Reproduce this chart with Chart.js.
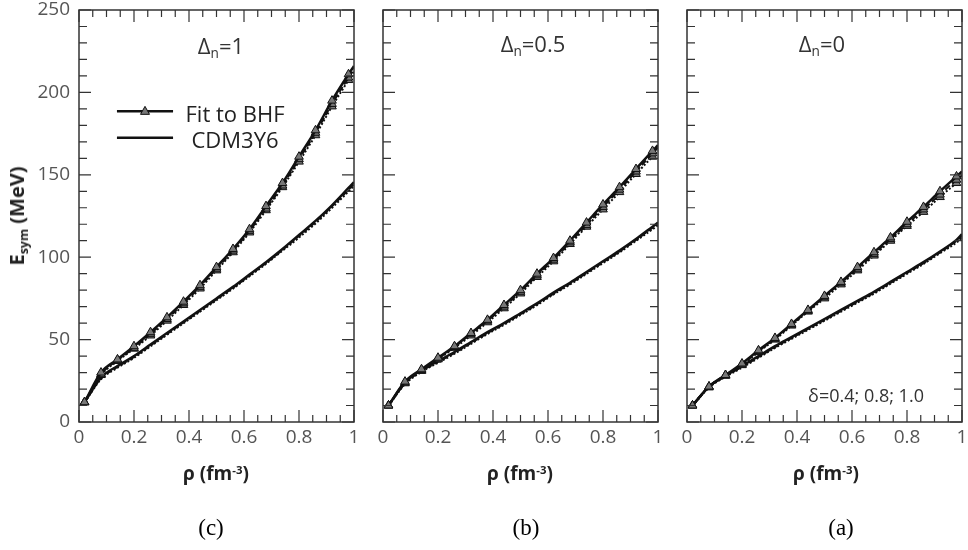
<!DOCTYPE html>
<html>
<head>
<meta charset="utf-8">
<script src="https://cdn.jsdelivr.net/npm/chart.js@4.4.0/dist/chart.umd.min.js"></script>
<style>
  body { margin: 0; background: #fff; }
  #wrap { position: relative; width: 968px; height: 550px; overflow: hidden; font-family: 'Open Sans', sans-serif; }
  canvas { position: absolute; left: 0; top: 0; }
  .lbl { position: absolute; transform: translate(-50%, -50%); white-space: nowrap; color: #333; line-height: 1; }
  .lbl sub { font-size: 62%; vertical-align: baseline; position: relative; top: 0.3em; }
  .lbl sup { font-size: 60%; vertical-align: baseline; position: relative; top: -0.55em; }
  .dn { font-size: 22px; }
  .xt { font-size: 19px; font-weight: bold; color: #222; }
  .yt { font-size: 20px; font-weight: bold; color: #222; transform: translate(-50%, -50%) rotate(-90deg); }
  .cap { font-family: 'Liberation Serif', 'Times New Roman', serif; font-size: 23px; color: #000; }
  .leg { font-size: 22px; color: #222; }
</style>
</head>
<body>
<div id="wrap">
  <canvas id="c1" width="968" height="550"></canvas>
  <canvas id="c2" width="968" height="550"></canvas>
  <canvas id="c3" width="968" height="550"></canvas>

  <div class="lbl dn" style="left:221px; top:45px;">&Delta;<sub>n</sub>=1</div>
  <div class="lbl dn" style="left:533px; top:43px;">&Delta;<sub>n</sub>=0.5</div>
  <div class="lbl dn" style="left:822px; top:43px;">&Delta;<sub>n</sub>=0</div>
  <div class="lbl" style="left:866px; top:395px; font-size:18px;">&delta;=0.4; 0.8; 1.0</div>

  <div class="lbl leg" style="left:235px; top:113px;">Fit to BHF</div>
  <div class="lbl leg" style="left:235px; top:139px;">CDM3Y6</div>

  <div class="lbl yt" style="left:17px; top:216px;">E<sub>sym</sub> (MeV)</div>
  <div class="lbl xt" style="left:216px; top:473px;">&rho; (fm<sup>-3</sup>)</div>
  <div class="lbl xt" style="left:520px; top:473px;">&rho; (fm<sup>-3</sup>)</div>
  <div class="lbl xt" style="left:826px; top:473px;">&rho; (fm<sup>-3</sup>)</div>

  <div class="lbl cap" style="left:211px; top:527px;">(c)</div>
  <div class="lbl cap" style="left:526px; top:527px;">(b)</div>
  <div class="lbl cap" style="left:841px; top:527px;">(a)</div>
</div>
<script>
// density grid (fm^-3)
const rho = [0.02, 0.08, 0.14, 0.20, 0.26, 0.32, 0.38, 0.44, 0.50, 0.56, 0.62, 0.68, 0.74, 0.80, 0.86, 0.92, 0.98, 1.00];

// panel (c), Delta_n = 1
const bhfC10 = [12, 30, 38, 46, 54.5, 63.5, 73, 83, 94, 105, 117, 131, 145, 161, 177, 195, 211, 216];
const bhfC08 = [12, 29, 37.5, 45, 53.5, 62.5, 72, 82, 93, 104, 116, 129.5, 143.5, 159.5, 175.5, 193, 209, 214.5];
const bhfC04 = [12, 28.5, 37, 44.5, 52.5, 61.5, 71, 81, 92, 103, 115, 128.5, 142.5, 158, 174, 191.5, 207.5, 213];
const cdmC10 = [12, 27, 34, 40, 47, 54, 61, 68, 75, 82, 89.5, 97, 105, 113.5, 122, 131.5, 142, 145.5];
const cdmC08 = [12, 26.5, 33.5, 39.5, 46.5, 53.5, 60.5, 67.5, 74.5, 81.5, 89, 96.5, 104.5, 113, 121.5, 131, 141, 144.5];
const cdmC04 = [12, 26, 33, 39, 46, 53, 60, 67, 74, 81, 88.5, 96, 104, 112, 120.5, 130, 140, 143.5];

// panel (b), Delta_n = 0.5
const bhfB10 = [10, 24.5, 32, 39, 46, 54, 62, 71, 80, 90, 99.5, 110, 121, 132, 142.5, 153.5, 164.5, 168];
const bhfB08 = [10, 24, 31.5, 38.5, 45.5, 53.5, 61.5, 70, 79, 89, 98.5, 109, 119.5, 130.5, 141, 152, 163, 166.5];
const bhfB04 = [10, 23.5, 31, 38, 45, 52.5, 60.5, 69, 78, 88, 97.5, 108, 118.5, 129, 139.5, 150.5, 161, 164.5];
const cdmB10 = [10, 24, 31.5, 37, 42.5, 48.5, 54.5, 60, 66, 72, 78.5, 84.5, 91, 97.5, 104, 111, 118.5, 121];
const cdmB08 = [10, 23.5, 31, 36.5, 42, 48, 54, 59.5, 65.5, 71.5, 78, 84, 90.5, 97, 103.5, 110.5, 118, 120.5];
const cdmB04 = [10, 23, 30.5, 36, 41.5, 47.5, 53.5, 59, 65, 71, 77.5, 83.5, 90, 96.5, 103, 110, 117, 119.5];

// panel (a), Delta_n = 0
const bhfA10 = [10, 21.5, 28.5, 35.5, 43.5, 51, 59.5, 68, 76.5, 85, 94, 103, 112, 121.5, 130.5, 140, 149, 152];
const bhfA08 = [10, 21.5, 28.5, 35, 43, 50.5, 59, 67.5, 76, 84.5, 93, 102, 111, 120, 129, 138, 147, 149.5];
const bhfA04 = [10, 21, 28, 34.5, 42.5, 50, 58.5, 67, 75, 83.5, 92, 101, 110, 119, 127.5, 136.5, 145, 147.5];
const cdmA10 = [10, 21.5, 28, 34, 40, 46, 51.5, 57, 62.5, 68, 73.5, 79, 85, 91, 97, 103.5, 110.5, 114];
const cdmA08 = [10, 21.5, 28, 33.5, 39.5, 45.5, 51, 56.5, 62, 67.5, 73, 78.5, 84.5, 90.5, 96.5, 103, 110, 113];
const cdmA04 = [10, 21, 27.5, 33, 39, 45, 50.5, 56, 61.5, 67, 72.5, 78, 84, 90, 96, 102.5, 109, 112];

const tickFont = { family: 'Open Sans', size: 19 };

function series(vals, dash, markers, width) {
    return {
        data: rho.map((r, i) => ({ x: r, y: vals[i] })),
        borderColor: '#111',
        borderWidth: width,
        borderDash: dash,
        pointStyle: 'triangle',
        pointRadius: markers ? (ctx => ctx.dataIndex < rho.length - 1 ? 5 : 0) : 0,
        pointBackgroundColor: '#777',
        pointBorderColor: '#111',
        pointBorderWidth: 1,
        cubicInterpolationMode: 'monotone',
        fill: false
    };
}

// box with inward ticks on all four sides
const framePlugin = {
    id: 'frame',
    afterDraw(chart) {
        const { ctx, chartArea: a, scales: { x, y } } = chart;
        ctx.save();
        ctx.strokeStyle = '#333';
        ctx.lineWidth = 1.5;
        ctx.strokeRect(a.left, a.top, a.right - a.left, a.bottom - a.top);
        ctx.lineWidth = 1.2;
        ctx.beginPath();
        for (let i = 0; i <= 20; i++) {
            const px = x.getPixelForValue(i * 0.05);
            const len = i % 4 === 0 ? 12 : 7;
            ctx.moveTo(px, a.bottom); ctx.lineTo(px, a.bottom - len);
            ctx.moveTo(px, a.top); ctx.lineTo(px, a.top + len);
        }
        for (let i = 0; i <= 25; i++) {
            const py = y.getPixelForValue(i * 10);
            const len = i % 5 === 0 ? 12 : 8;
            ctx.moveTo(a.left, py); ctx.lineTo(a.left + len, py);
            ctx.moveTo(a.right, py); ctx.lineTo(a.right - len, py);
        }
        ctx.stroke();

        // legend samples (first panel only)
        if (chart.options.plugins.frame && chart.options.plugins.frame.legend) {
            const x0 = x.getPixelForValue(0.138), x1 = x.getPixelForValue(0.342);
            const xm = x.getPixelForValue(0.24);
            const yb = y.getPixelForValue(188.5), yc = y.getPixelForValue(172.5);
            ctx.strokeStyle = '#111';
            ctx.lineWidth = 2.5;
            ctx.beginPath();
            ctx.moveTo(x0, yb); ctx.lineTo(x1, yb);
            ctx.moveTo(x0, yc); ctx.lineTo(x1, yc);
            ctx.stroke();
            ctx.fillStyle = '#777';
            ctx.lineWidth = 1;
            ctx.beginPath();
            ctx.moveTo(xm, yb - 5);
            ctx.lineTo(xm + 4.5, yb + 3);
            ctx.lineTo(xm - 4.5, yb + 3);
            ctx.closePath();
            ctx.fill();
            ctx.stroke();
        }
        ctx.restore();
    }
};

function makePanel(id, left, right, showY, sets, legend) {
    new Chart(document.getElementById(id), {
        type: 'line',
        data: {
            datasets: [
                series(sets[0], [], true, 2.5),
                series(sets[1], [6, 3], true, 2),
                series(sets[2], [2, 2], true, 2),
                series(sets[3], [], false, 2.5),
                series(sets[4], [6, 3], false, 2.2),
                series(sets[5], [2, 2], false, 2.2)
            ]
        },
        options: {
            responsive: false,
            animation: false,
            layout: { padding: { left: left, right: right, top: 10, bottom: 98 } },
            plugins: {
                legend: { display: false },
                tooltip: { enabled: false },
                frame: { legend: legend }
            },
            scales: {
                x: {
                    type: 'linear',
                    min: 0,
                    max: 1,
                    ticks: {
                        stepSize: 0.2, color: '#555', font: tickFont, padding: 4, maxRotation: 0,
                        callback: v => String(Math.round(v * 10) / 10)
                    },
                    grid: { display: false, drawTicks: false },
                    border: { display: false },
                    afterFit: s => { s.height = 30; s.paddingLeft = 0; s.paddingRight = 0; }
                },
                y: {
                    display: showY,
                    min: 0,
                    max: 250,
                    ticks: { stepSize: 50, color: '#555', font: tickFont, padding: 9 },
                    grid: { display: false, drawTicks: false },
                    border: { display: false },
                    afterFit: s => { s.width = showY ? 79 : 0; s.paddingTop = 0; s.paddingBottom = 0; }
                }
            }
        },
        plugins: [framePlugin]
    });
}

makePanel('c1', 0, 968 - 354, true, [bhfC10, bhfC08, bhfC04, cdmC10, cdmC08, cdmC04], true);
makePanel('c2', 383, 968 - 658, false, [bhfB10, bhfB08, bhfB04, cdmB10, cdmB08, cdmB04], false);
makePanel('c3', 687, 968 - 962, false, [bhfA10, bhfA08, bhfA04, cdmA10, cdmA08, cdmA04], false);
</script>
</body>
</html>
